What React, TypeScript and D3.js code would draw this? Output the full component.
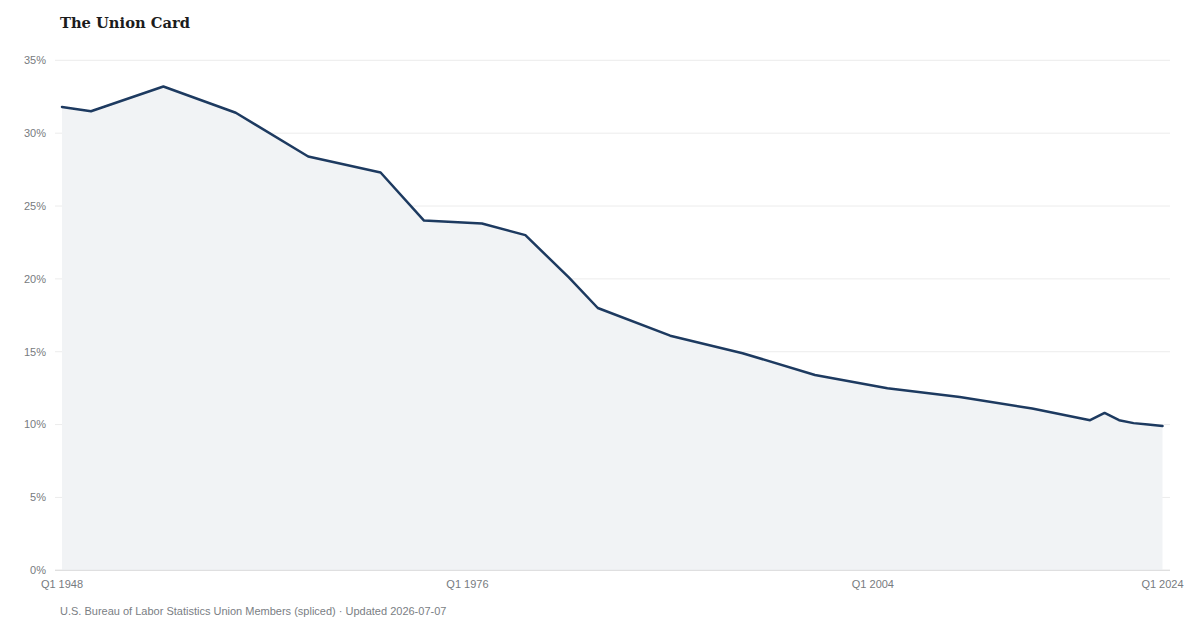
import React from "react";
import * as d3 from "d3";

const years = [1948, 1950, 1955, 1960, 1965, 1970, 1973, 1977, 1980, 1983, 1985, 1990, 1995, 2000, 2005, 2010, 2015, 2019, 2020, 2021, 2022, 2023, 2024];
const rates = [31.8, 31.5, 33.2, 31.4, 28.4, 27.3, 24.0, 23.8, 23.0, 20.1, 18.0, 16.1, 14.9, 13.4, 12.5, 11.9, 11.1, 10.3, 10.8, 10.3, 10.1, 10.0, 9.9];
const yTicks = [0, 5, 10, 15, 20, 25, 30, 35];
const xTickYears = [1948, 1976, 2004, 2024];

const title = "The Union Card";
const source = "U.S. Bureau of Labor Statistics Union Members (spliced) · Updated 2026-07-07";

const W = 1200;
const H = 630;

export default function App() {
  const data = years.map((y, i) => ({ date: new Date(y, 0, 1), v: rates[i] }));
  const x = d3
    .scaleTime()
    .domain([new Date(1948, 0, 1), new Date(2024, 0, 1)])
    .range([62, 1162.5]);
  const y = d3.scaleLinear().domain([0, 35]).range([570.3, 60.3]);

  const line = d3
    .line<{ date: Date; v: number }>()
    .x((d) => x(d.date))
    .y((d) => y(d.v));
  const area = d3
    .area<{ date: Date; v: number }>()
    .x((d) => x(d.date))
    .y0(y(0))
    .y1((d) => y(d.v));

  const sans = "'Liberation Sans', Arial, Helvetica, sans-serif";

  return (
    <svg
      width={W}
      height={H}
      viewBox={`0 0 ${W} ${H}`}
      style={{ position: "absolute", left: 0, top: 0, background: "#fff" }}
    >
      <rect x={0} y={0} width={W} height={H} fill="#ffffff" />
      <text
        x={60}
        y={27.5}
        fontFamily="'DejaVu Serif', Georgia, serif"
        fontWeight="bold"
        fontSize={14.7}
        fill="#1c1c1c"
      >
        {title}
      </text>

      {yTicks.map((t) => (
        <g key={t}>
          <line
            x1={55}
            x2={1170}
            y1={y(t)}
            y2={y(t)}
            stroke={t === 0 ? "#dddddd" : "#ececec"}
            strokeWidth={1}
          />
        </g>
      ))}

      <path d={area(data) || ""} fill="#f1f3f5" />
      <line x1={55} x2={1170} y1={y(0)} y2={y(0)} stroke="#dedede" strokeWidth={1} />
      <path
        d={line(data) || ""}
        fill="none"
        stroke="#1d3a60"
        strokeWidth={2.5}
        strokeLinejoin="round"
        strokeLinecap="round"
      />

      {yTicks.map((t) => (
        <text
          key={"l" + t}
          x={46}
          y={y(t)}
          dy="0.35em"
          textAnchor="end"
          fontFamily={sans}
          fontSize={11}
          fill="#777b80"
        >
          {t + "%"}
        </text>
      ))}

      {xTickYears.map((yr) => (
        <text
          key={yr}
          x={x(new Date(yr, 0, 1))}
          y={588}
          textAnchor="middle"
          fontFamily={sans}
          fontSize={11}
          fill="#777b80"
        >
          {"Q1 " + yr}
        </text>
      ))}

      <text x={60} y={615} fontFamily={sans} fontSize={11} fill="#7a7e84">
        {source}
      </text>
    </svg>
  );
}
